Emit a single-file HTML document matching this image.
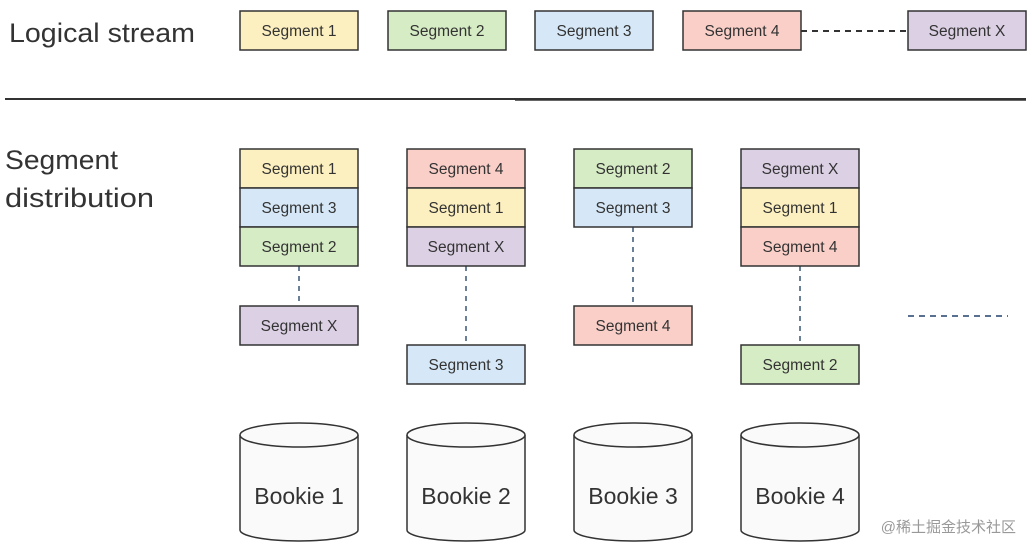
<!DOCTYPE html>
<html><head><style>
body{margin:0;background:#fff;width:1032px;height:554px;overflow:hidden;font-family:"Liberation Sans",sans-serif}
</style></head><body>
<svg width="1032" height="554" xmlns="http://www.w3.org/2000/svg" font-family="Liberation Sans, sans-serif">
<g font-size="27" fill="#333">
<text x="9" y="42" textLength="186" lengthAdjust="spacingAndGlyphs">Logical stream</text>
<text x="5" y="169" textLength="113" lengthAdjust="spacingAndGlyphs">Segment</text>
<text x="5" y="207" textLength="149" lengthAdjust="spacingAndGlyphs">distribution</text>
</g>
<line x1="5" y1="99" x2="1026" y2="99" stroke="#333" stroke-width="2"/>
<line x1="515" y1="100" x2="1026" y2="100" stroke="#333" stroke-width="1.5"/>
<line x1="801" y1="31" x2="908" y2="31" stroke="#333" stroke-width="2" stroke-dasharray="6,5"/>
<line x1="908" y1="316" x2="1008" y2="316" stroke="#5a7090" stroke-width="2" stroke-dasharray="6,5"/>
<g stroke="#6a8098" stroke-width="2" stroke-dasharray="5,5">
<line x1="299" y1="266" x2="299" y2="306"/>
<line x1="466" y1="266" x2="466" y2="345"/>
<line x1="633" y1="227" x2="633" y2="306"/>
<line x1="800" y1="266" x2="800" y2="345"/>
</g>
<g stroke="#333" stroke-width="1.5" font-size="15.5" text-anchor="middle">
<rect x="240" y="11" width="118" height="39" fill="#fdf0c0"/><text x="299" y="36" stroke="none" fill="#333">Segment 1</text>
<rect x="388" y="11" width="118" height="39" fill="#d6ecc4"/><text x="447" y="36" stroke="none" fill="#333">Segment 2</text>
<rect x="535" y="11" width="118" height="39" fill="#d6e8f7"/><text x="594" y="36" stroke="none" fill="#333">Segment 3</text>
<rect x="683" y="11" width="118" height="39" fill="#f9cfc8"/><text x="742" y="36" stroke="none" fill="#333">Segment 4</text>
<rect x="908" y="11" width="118" height="39" fill="#dcd0e4"/><text x="967" y="36" stroke="none" fill="#333">Segment X</text>
<rect x="240" y="149" width="118" height="39" fill="#fdf0c0"/><text x="299" y="174" stroke="none" fill="#333">Segment 1</text>
<rect x="240" y="188" width="118" height="39" fill="#d6e8f7"/><text x="299" y="213" stroke="none" fill="#333">Segment 3</text>
<rect x="240" y="227" width="118" height="39" fill="#d6ecc4"/><text x="299" y="252" stroke="none" fill="#333">Segment 2</text>
<rect x="240" y="306" width="118" height="39" fill="#dcd0e4"/><text x="299" y="331" stroke="none" fill="#333">Segment X</text>
<rect x="407" y="149" width="118" height="39" fill="#f9cfc8"/><text x="466" y="174" stroke="none" fill="#333">Segment 4</text>
<rect x="407" y="188" width="118" height="39" fill="#fdf0c0"/><text x="466" y="213" stroke="none" fill="#333">Segment 1</text>
<rect x="407" y="227" width="118" height="39" fill="#dcd0e4"/><text x="466" y="252" stroke="none" fill="#333">Segment X</text>
<rect x="407" y="345" width="118" height="39" fill="#d6e8f7"/><text x="466" y="370" stroke="none" fill="#333">Segment 3</text>
<rect x="574" y="149" width="118" height="39" fill="#d6ecc4"/><text x="633" y="174" stroke="none" fill="#333">Segment 2</text>
<rect x="574" y="188" width="118" height="39" fill="#d6e8f7"/><text x="633" y="213" stroke="none" fill="#333">Segment 3</text>
<rect x="574" y="306" width="118" height="39" fill="#f9cfc8"/><text x="633" y="331" stroke="none" fill="#333">Segment 4</text>
<rect x="741" y="149" width="118" height="39" fill="#dcd0e4"/><text x="800" y="174" stroke="none" fill="#333">Segment X</text>
<rect x="741" y="188" width="118" height="39" fill="#fdf0c0"/><text x="800" y="213" stroke="none" fill="#333">Segment 1</text>
<rect x="741" y="227" width="118" height="39" fill="#f9cfc8"/><text x="800" y="252" stroke="none" fill="#333">Segment 4</text>
<rect x="741" y="345" width="118" height="39" fill="#d6ecc4"/><text x="800" y="370" stroke="none" fill="#333">Segment 2</text>
</g>
<g stroke="#333" stroke-width="1.5" fill="#fafafa" font-size="23" text-anchor="middle">
<g transform="translate(240,0)"><path d="M0 435 V530 A59 11 0 0 0 118 530 V435"/><ellipse cx="59" cy="435" rx="59" ry="12"/><text x="59" y="504" stroke="none" fill="#333">Bookie 1</text></g>
<g transform="translate(407,0)"><path d="M0 435 V530 A59 11 0 0 0 118 530 V435"/><ellipse cx="59" cy="435" rx="59" ry="12"/><text x="59" y="504" stroke="none" fill="#333">Bookie 2</text></g>
<g transform="translate(574,0)"><path d="M0 435 V530 A59 11 0 0 0 118 530 V435"/><ellipse cx="59" cy="435" rx="59" ry="12"/><text x="59" y="504" stroke="none" fill="#333">Bookie 3</text></g>
<g transform="translate(741,0)"><path d="M0 435 V530 A59 11 0 0 0 118 530 V435"/><ellipse cx="59" cy="435" rx="59" ry="12"/><text x="59" y="504" stroke="none" fill="#333">Bookie 4</text></g>
</g>
<text x="1016" y="532" text-anchor="end" font-size="15" fill="#999" font-family="Liberation Sans, Noto Sans CJK SC, sans-serif">@稀土掘金技术社区</text>
</svg>
</body></html>
